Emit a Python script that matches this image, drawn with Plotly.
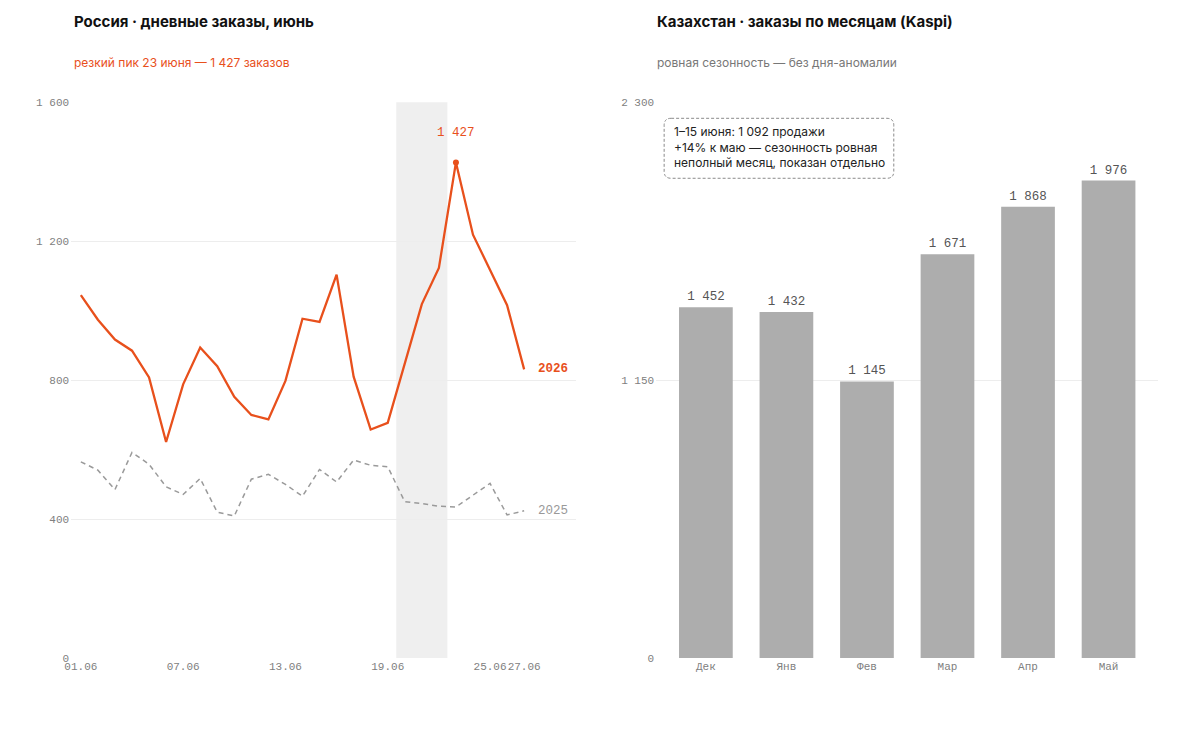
import plotly.graph_objects as go

# ---------------- data ----------------
days = list(range(1, 28))
orders_2026 = [1045, 974, 917, 885, 808, 622, 788, 894, 840, 752, 700, 687, 798, 977,
               968, 1104, 810, 658, 677, 850, 1019, 1123, 1427, 1219, 1115, 1016, 831]
orders_2025 = [565, 541, 485, 592, 558, 493, 471, 517, 420, 409, 515, 529, 500, 466,
               543, 507, 570, 555, 551, 450, 445, 437, 435, 469, 503, 412, 424]
x_tickvals = [1, 7, 13, 19, 25, 27]
x_ticktext = ["01.06", "07.06", "13.06", "19.06", "25.06", "27.06"]
ru_yticks = [0, 400, 800, 1200, 1600]
peak_day = 23
band_days = (20, 22)

months = ["Дек", "Янв", "Фев", "Мар", "Апр", "Май"]
kz_orders = [1452, 1432, 1145, 1671, 1868, 1976]
kz_yticks = [0, 1150, 2300]

# ---------------- style ----------------
W, H = 1200, 731
ORANGE = "#e8501c"
GRAY_LINE = "#9a9a9a"
BAR = "#adadad"
GRID = "#ededed"
TICK = "#808080"
SANS = "Inter, Roboto, sans-serif"
MONO = "Liberation Mono, DejaVu Sans Mono, monospace"


def px(x):
    return x / W


def py(y):
    # vertical placement (with small empirical correction of the capture)
    yy = (y - 4.65) / 0.984
    return 1 - yy / H


def fmt(v):
    return f"{v:,}".replace(",", " ")


fig = go.Figure()

fig.add_trace(go.Scatter(x=days, y=orders_2025, mode="lines",
                         line=dict(color=GRAY_LINE, width=1.5, dash="5px,4px"),
                         xaxis="x", yaxis="y", showlegend=False, hoverinfo="skip"))
fig.add_trace(go.Scatter(x=days, y=orders_2026, mode="lines",
                         line=dict(color=ORANGE, width=2.3),
                         xaxis="x", yaxis="y", showlegend=False))
pi = days.index(peak_day)
fig.add_trace(go.Scatter(x=[days[pi]], y=[orders_2026[pi]], mode="markers",
                         marker=dict(color=ORANGE, size=6),
                         xaxis="x", yaxis="y", showlegend=False))

fig.add_trace(go.Bar(x=months, y=kz_orders, marker=dict(color=BAR, line=dict(width=0)),
                     text=[fmt(v) for v in kz_orders], textposition="outside",
                     textfont=dict(family=MONO, size=12.5, color="#555"),
                     cliponaxis=False, xaxis="x2", yaxis="y2", showlegend=False))

# band
fig.add_shape(type="rect", xref="x", yref="y domain", x0=band_days[0] - 0.5, x1=band_days[1] + 0.5,
              y0=0, y1=1, fillcolor="#efefef", line=dict(width=0), layer="below")

ann = []
# titles
ann.append(dict(x=px(65), y=py(21), xref="paper", yref="paper", xanchor="left", yanchor="middle",
                text="<b>Россия · дневные заказы, июнь</b>", showarrow=False,
                font=dict(family=SANS, size=15, color="#111")))
ann.append(dict(x=px(65), y=py(62), xref="paper", yref="paper", xanchor="left", yanchor="middle",
                text=f"резкий пик {peak_day} июня — {fmt(orders_2026[pi]).replace(' ', ' ')} заказов",
                showarrow=False, font=dict(family=SANS, size=12, color=ORANGE)))
ann.append(dict(x=px(652), y=py(21), xref="paper", yref="paper", xanchor="left", yanchor="middle",
                text="<b>Казахстан · заказы по месяцам (Kaspi)</b>", showarrow=False,
                font=dict(family=SANS, size=15, color="#111")))
ann.append(dict(x=px(652), y=py(62), xref="paper", yref="paper", xanchor="left", yanchor="middle",
                text="ровная сезонность — без дня-аномалии", showarrow=False,
                font=dict(family=SANS, size=12, color="#777")))
# series labels
ann.append(dict(x=days[-1], y=orders_2026[-1], xref="x", yref="y", xanchor="left", yanchor="middle",
                xshift=12, text="<b>2026</b>", showarrow=False,
                font=dict(family=MONO, size=12.5, color=ORANGE)))
ann.append(dict(x=days[-1], y=orders_2025[-1], xref="x", yref="y", xanchor="left", yanchor="middle",
                xshift=12, text="2025", showarrow=False,
                font=dict(family=MONO, size=12.5, color="#999")))
ann.append(dict(x=days[pi], y=orders_2026[pi], xref="x", yref="y", xanchor="center", yanchor="middle",
                yshift=29.5, text=fmt(orders_2026[pi]), showarrow=False,
                font=dict(family=MONO, size=12.5, color=ORANGE)))
# note box text
ann.append(dict(x=px(669), y=py(147), xref="paper", yref="paper", xanchor="left", yanchor="middle",
                align="left", showarrow=False,
                text="1–15 июня: 1 092 продажи<br>+14% к маю — сезонность ровная<br>неполный месяц, показан отдельно",
                font=dict(family=SANS, size=12, color="#222")))

# rounded dashed note box
x0, y0, x1, y1, r = 661, 118, 892, 178, 7
path = (f"M {px(x0 + r)},{py(y0)} L {px(x1 - r)},{py(y0)} Q {px(x1)},{py(y0)} {px(x1)},{py(y0 + r)} "
        f"L {px(x1)},{py(y1 - r)} Q {px(x1)},{py(y1)} {px(x1 - r)},{py(y1)} "
        f"L {px(x0 + r)},{py(y1)} Q {px(x0)},{py(y1)} {px(x0)},{py(y1 - r)} "
        f"L {px(x0)},{py(y0 + r)} Q {px(x0)},{py(y0)} {px(x0 + r)},{py(y0)} Z")
fig.add_shape(type="path", xref="paper", yref="paper", path=path,
              line=dict(color="#8a8a8a", width=1, dash="3px,2px"), fillcolor="rgba(0,0,0,0)")

ydom = [py(658), py(102)]
tickfont = dict(family=MONO, size=11, color=TICK)

fig.update_layout(
    width=W, height=H, margin=dict(l=0, r=0, t=0, b=0),
    paper_bgcolor="white", plot_bgcolor="white",
    separators=", ",
    bargap=0.333,
    annotations=ann,
    xaxis=dict(domain=[px(64.5), px(572.3)], range=[0.43, 30.04], tickvals=x_tickvals, ticktext=x_ticktext,
               tickangle=0, showgrid=False, zeroline=False, showline=False, ticks="", tickfont=tickfont,
               anchor="y"),
    yaxis=dict(domain=ydom, range=[0, 1600], tickvals=ru_yticks, separatethousands=True,
               gridcolor=GRID, gridwidth=1, zeroline=False, showline=False, ticks="",
               tickfont=tickfont, anchor="x", ticklabelstandoff=1),
    xaxis2=dict(domain=[px(653), px(1158)], range=[-0.617, 5.617], tickangle=0, showgrid=False,
                zeroline=False, showline=False, ticks="", tickfont=tickfont, anchor="y2"),
    yaxis2=dict(domain=ydom, range=[0, 2300], tickvals=kz_yticks, separatethousands=True,
                gridcolor=GRID, gridwidth=1, zeroline=False, showline=False, ticks="",
                tickfont=tickfont, anchor="x2", ticklabelstandoff=1),
)

fig.write_html("out.html", post_script="document.body.style.margin='0';")
